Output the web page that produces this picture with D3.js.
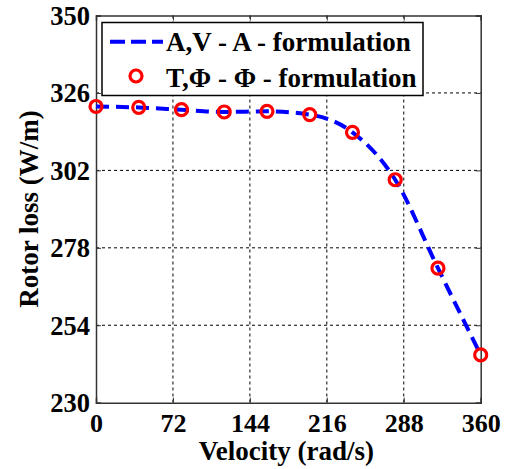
<!DOCTYPE html>
<html>
<head>
<meta charset="utf-8">
<script src="https://cdn.jsdelivr.net/npm/d3@7"></script>
<style>
  body { margin: 0; background: #fff; }
  svg text { font-family: 'Liberation Serif', serif; font-weight: 700; fill: #000; }
</style>
</head>
<body>
<div id="chart"></div>
<script>
// data
const velocity   = [0, 40, 80, 120, 160, 200, 240, 280, 320, 360];
const lossAV     = [321.8, 321.5, 320.8, 320.1, 320.3, 319.3, 313.8, 299.1, 271.7, 244.8];
const lossTPhi   = [321.8, 321.5, 320.8, 320.1, 320.3, 319.3, 313.8, 299.1, 271.7, 244.8];
const xTicks     = [0, 72, 144, 216, 288, 360];
const yTicks     = [230, 254, 278, 302, 326, 350];
const legendText = ["A,V - A - formulation", "T,\u03A6 - \u03A6 - formulation"];

const FONT = "'Liberation Serif', serif"

const dimensions = {
    width: 506,
    height: 469,
    margin: { top: 15.5, bottom: 66.3, left: 96, right: 25.3 }
}
dimensions.ctrWidth  = dimensions.width - dimensions.margin.left - dimensions.margin.right
dimensions.ctrHeight = dimensions.height - dimensions.margin.top - dimensions.margin.bottom

const svg = d3.select('#chart')
    .append('svg')
    .attr('width', dimensions.width)
    .attr('height', dimensions.height)
    .attr('font-family', FONT)
    .attr('font-weight', 'bold')

const ctr = svg.append('g')
    .attr('transform', `translate(${dimensions.margin.left}, ${dimensions.margin.top})`)

const xScale = d3.scaleLinear().domain([0, 360]).range([0, dimensions.ctrWidth])
const yScale = d3.scaleLinear().domain([230, 350]).range([dimensions.ctrHeight, 0])

// dotted grid
const grid = ctr.append('g')
    .attr('stroke', '#000')
    .attr('stroke-width', 1)
    .attr('stroke-dasharray', '3,3')
grid.selectAll('.vgrid')
    .data(xTicks.slice(1, -1))
    .join('line')
    .attr('class', 'vgrid')
    .attr('x1', d => xScale(d)).attr('x2', d => xScale(d))
    .attr('y1', 0).attr('y2', dimensions.ctrHeight)
grid.selectAll('.hgrid')
    .data(yTicks.slice(1, -1))
    .join('line')
    .attr('class', 'hgrid')
    .attr('y1', d => yScale(d)).attr('y2', d => yScale(d))
    .attr('x1', 0).attr('x2', dimensions.ctrWidth)

// axes with inward ticks
const xAxis = d3.axisBottom(xScale).tickValues(xTicks).tickSize(-5).tickPadding(10.5).tickFormat(d3.format('d'))
const yAxis = d3.axisLeft(yScale).tickValues(yTicks).tickSize(-5).tickPadding(6).tickFormat(d3.format('d'))

const xG = ctr.append('g')
    .attr('transform', `translate(0, ${dimensions.ctrHeight})`)
    .call(xAxis)
const yG = ctr.append('g').call(yAxis)
ctr.append('g').call(d3.axisTop(xScale).tickValues(xTicks).tickSize(-5).tickFormat(''))
ctr.append('g')
    .attr('transform', `translate(${dimensions.ctrWidth}, 0)`)
    .call(d3.axisRight(yScale).tickValues(yTicks).tickSize(-5).tickFormat(''))

ctr.selectAll('g').filter(function () { return this.hasAttribute('font-family') })
    .attr('font-family', FONT)
ctr.selectAll('.domain').attr('stroke', '#333').attr('stroke-width', 1.5)
ctr.selectAll('.tick line').attr('stroke', '#333')
xG.selectAll('text').attr('font-size', 26).attr('dy', '0.71em')
yG.selectAll('text').attr('font-size', 26.5).attr('dy', '0.34em')

// legend box
const legend = ctr.append('g')
legend.append('rect')
    .attr('x', 6).attr('y', 7)
    .attr('width', 321).attr('height', 73)
    .attr('fill', '#fff')
    .attr('stroke', '#000')
    .attr('stroke-width', 1.5)

// data line
const line = d3.line()
    .x((d, i) => xScale(velocity[i]))
    .y(d => yScale(d))
    .curve(d3.curveMonotoneX)

ctr.append('path')
    .datum(lossAV)
    .attr('d', line)
    .attr('fill', 'none')
    .attr('stroke', '#0000ff')
    .attr('stroke-width', 4)
    .attr('stroke-dasharray', '13,7')

ctr.selectAll('.marker')
    .data(lossTPhi)
    .join('circle')
    .attr('class', 'marker')
    .attr('cx', (d, i) => xScale(velocity[i]))
    .attr('cy', d => yScale(d))
    .attr('r', 6)
    .attr('fill', 'none')
    .attr('stroke', '#ff0000')
    .attr('stroke-width', 3.2)

// legend entries
legend.append('line')
    .attr('x1', 14).attr('x2', 67)
    .attr('y1', 26.2).attr('y2', 26.2)
    .attr('stroke', '#0000ff')
    .attr('stroke-width', 4)
    .attr('stroke-dasharray', '15,6')
legend.append('circle')
    .attr('cx', 40).attr('cy', 60.5)
    .attr('r', 6)
    .attr('fill', 'none')
    .attr('stroke', '#ff0000')
    .attr('stroke-width', 3.2)
legend.selectAll('.ltext')
    .data(legendText)
    .join('text')
    .attr('class', 'ltext')
    .attr('x', 70)
    .attr('y', (d, i) => 35 + i * 36)
    .attr('font-size', 27)
    .text(d => d)

// axis titles
svg.append('text')
    .attr('x', dimensions.margin.left + dimensions.ctrWidth / 2 - 2)
    .attr('y', 460)
    .attr('text-anchor', 'middle')
    .attr('font-size', 27)
    .text('Velocity (rad/s)')

svg.append('text')
    .attr('transform', `translate(38, ${dimensions.margin.top + dimensions.ctrHeight / 2}) rotate(-90)`)
    .attr('text-anchor', 'middle')
    .attr('font-size', 27)
    .text('Rotor loss (W/m)')
</script>
</body>
</html>
